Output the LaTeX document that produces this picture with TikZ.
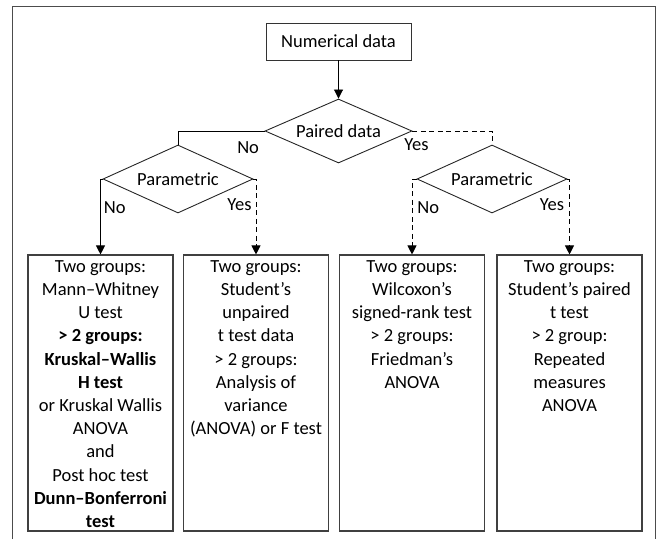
\documentclass[tikz,border=0pt]{standalone}
\usepackage{fontspec}
\setmainfont{Carlito}
\usetikzlibrary{arrows.meta, positioning, shapes.geometric}
\tikzset{
		process/.style={draw=black!80, line width=0.9pt, rectangle, minimum width=145pt, minimum height=37pt, inner sep=0pt},
		decision/.style={draw=black!85, line width=0.9pt, diamond, aspect=2.2, inner sep=0pt},
		testbox/.style={draw=black!75, line width=1.1pt, rectangle, minimum width=145pt, minimum height=276pt, inner sep=0pt},
		answer/.style={inner sep=0pt},
		link/.style={line width=0.9pt},
		maybe/.style={line width=0.9pt, dash pattern=on 5pt off 3.5pt},
		frame/.style={draw=black!70, line width=1pt}
	}
\newcommand{\boxlines}[1]{\parbox[c][274pt][t]{145pt}{\centering\strut #1}}

\begin{document}
\begin{tikzpicture}[x=1pt, y=1pt, >={Triangle[length=9pt,width=9pt]}, on grid, font=\fontsize{18.5}{23.2}\selectfont]
		\useasboundingbox (0,0) rectangle (660,539);
		\draw[frame] (12,0) -- (12,532) -- (655,532) -- (655,0);

		\node[process]                                            (num) at (338.5,497.5)                      {Numerical data};
		\node[decision, minimum width=147pt, minimum height=64pt] (pd) [below=89.5pt of num]                   {Paired data};
		\node[decision, minimum width=150pt, minimum height=68pt] (pl) [below left=48pt and 160.5pt of pd]    {Parametric};
		\node[decision, minimum width=150pt, minimum height=68pt] (pr) [below right=48pt and 153.5pt of pd]   {Parametric};

		\node[testbox] (t1) [below left=214pt and 77.5pt of pl]  {\boxlines{Two groups:\\ Mann–Whitney\\ U test\\ \textbf{> 2 groups:}\\ \textbf{Kruskal–Wallis}\\ \textbf{H test}\\ or Kruskal Wallis\\ ANOVA\\ and\\ Post hoc test\\ \textbf{Dunn–Bonferroni}\\ \textbf{test}}};
		\node[testbox] (t2) [below right=214pt and 78pt of pl]   {\boxlines{Two groups:\\ Student’s\\ unpaired\\ t test data\\ > 2 groups:\\ Analysis of\\ variance\\ (ANOVA) or F test}};
		\node[testbox] (t3) [below left=214pt and 80pt of pr]    {\boxlines{Two groups:\\ Wilcoxon’s\\ signed-rank test\\ > 2 groups:\\ Friedman’s\\ ANOVA}};
		\node[testbox] (t4) [below right=214pt and 77.5pt of pr] {\boxlines{Two groups:\\ Student’s paired\\ t test\\ > 2 group:\\ Repeated\\ measures\\ ANOVA}};

		\draw[link, ->]  (num)      -- (pd);
		\draw[link]      (pd.west)  -| node[answer, pos=.095, yshift=-16.5pt] {No}  (pl.north);
		\draw[maybe]     (pd.east)  -| node[answer, pos=.025, yshift=-14pt]   {Yes} (pr.north);

		\draw[link, ->]  (pl.west)  -| node[answer, pos=.69, right=3pt] {No}  (t1.north);
		\draw[maybe, ->] (pl.east)  -| node[answer, pos=.67, left=4pt]  {Yes} (t2.north);
		\draw[maybe, ->] (pr.west)  -| node[answer, pos=.69, right=5pt] {No}  (t3.north);
		\draw[maybe, ->] (pr.east)  -| node[answer, pos=.67, left=5pt]  {Yes} (t4.north);
	\end{tikzpicture}
\end{document}
